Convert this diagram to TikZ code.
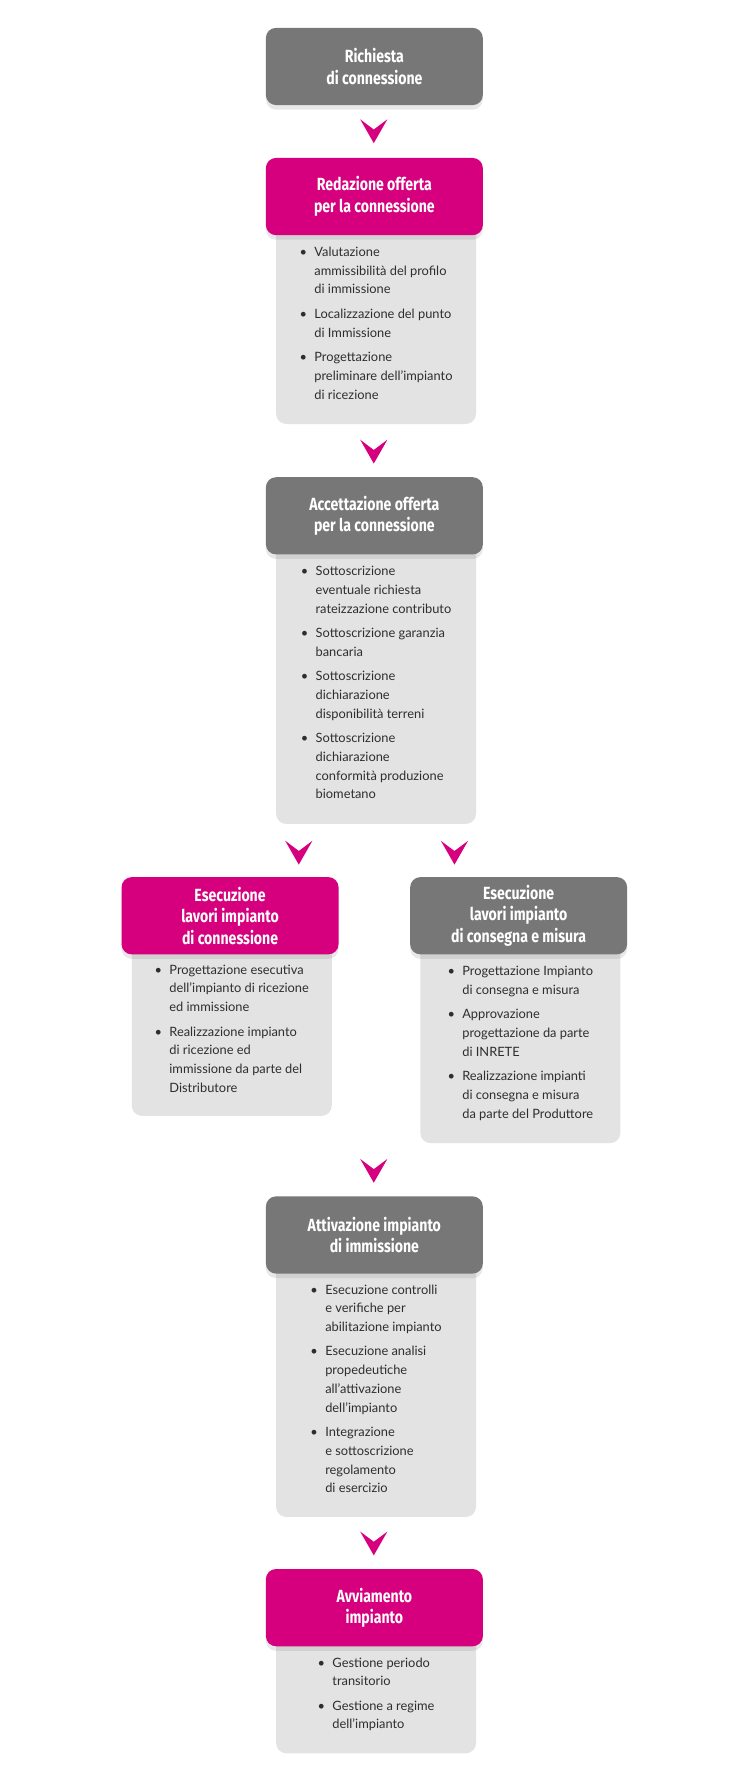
\documentclass[tikz,border=0pt]{standalone}
\usepackage{fontspec}
\setmainfont{Lato}
\newfontfamily\headfont[FakeStretch=0.8]{Fira Sans}
\usetikzlibrary{shadows}
\definecolor{grigio}{HTML}{777777}
\definecolor{magenta}{HTML}{D6007E}
\definecolor{chiaro}{HTML}{E3E3E3}
\definecolor{testo}{HTML}{2E2E2E}
\newcommand{\pt}[1]{\textbullet & #1}
\begin{document}
\begin{tikzpicture}[x=1pt, y=-1pt,
        header/.style={rounded corners=9pt, minimum width=191pt, minimum height=68pt,
          text=white, align=center, font=\headfont\bfseries\fontsize{15.5}{19}\selectfont,
          drop shadow={opacity=0.18, shadow xshift=0pt, shadow yshift=-4pt}},
        grigia/.style={header, fill=grigio},
        rosa/.style={header, fill=magenta},
        lista/.style={fill=chiaro, rounded corners=9pt, anchor=north, minimum width=176pt,
          inner xsep=8pt, inner ysep=9pt, text=testo, font=\fontsize{11.3}{16.5}\selectfont},
        freccia/.style={fill=magenta}
    ]
    \useasboundingbox (0,0) rectangle (660,1572);
    \newcommand{\chev}[1]{\fill[freccia, shift={#1}] (-12,0) -- (0,9) -- (12,0) -- (0,21) -- cycle;}

    % Liste
    \node[lista, minimum height=176pt] (l2) at (331,197) {\begin{tabular}{@{}p{13pt}@{}l@{}}
        \pt{Valutazione}\\ & ammissibilità del profilo\\ & di immissione\\[5pt]
        \pt{Localizzazione del punto}\\ & di Immissione\\[5pt]
        \pt{Progettazione}\\ & preliminare dell’impianto\\ & di ricezione\end{tabular}};
    \node[lista, minimum height=247pt] (l3) at (331,478) {\begin{tabular}{@{}p{13pt}@{}l@{}}
        \pt{Sottoscrizione}\\ & eventuale richiesta\\ & rateizzazione contributo\\[5pt]
        \pt{Sottoscrizione garanzia}\\ & bancaria\\[5pt]
        \pt{Sottoscrizione}\\ & dichiarazione\\ & disponibilità terreni\\[5pt]
        \pt{Sottoscrizione}\\ & dichiarazione\\ & conformità produzione\\ & biometano\end{tabular}};
    \node[lista, minimum height=152pt] (l4a) at (204,830) {\begin{tabular}{@{}p{13pt}@{}l@{}}
        \pt{Progettazione esecutiva}\\ & dell’impianto di ricezione\\ & ed immissione\\[5pt]
        \pt{Realizzazione impianto}\\ & di ricezione ed\\ & immissione da parte del\\ & Distributore\end{tabular}};
    \node[lista, minimum height=176pt] (l4b) at (458,830) {\begin{tabular}{@{}p{13pt}@{}l@{}}
        \pt{Progettazione Impianto}\\ & di consegna e misura\\[5pt]
        \pt{Approvazione}\\ & progettazione da parte\\ & di INRETE\\[5pt]
        \pt{Realizzazione impianti}\\ & di consegna e misura\\ & da parte del Produttore\end{tabular}};
    \node[lista, minimum height=224pt] (l5) at (331,1111) {\begin{tabular}{@{}p{13pt}@{}l@{}}
        \pt{Esecuzione controlli}\\ & e verifiche per\\ & abilitazione impianto\\[5pt]
        \pt{Esecuzione analisi}\\ & propedeutiche\\ & all’attivazione\\ & dell’impianto\\[5pt]
        \pt{Integrazione}\\ & e sottoscrizione\\ & regolamento\\ & di esercizio\end{tabular}};
    \node[lista, minimum height=104pt] (l6) at (331,1439) {\begin{tabular}{@{}p{13pt}@{}l@{}}
        \pt{Gestione periodo}\\ & transitorio\\[5pt]
        \pt{Gestione a regime}\\ & dell’impianto\end{tabular}};

    % Fasi
    \node[grigia] (richiesta) at (329.5,58.5) {Richiesta\\di connessione};
    \node[rosa] (redazione) at (329.5,173) {Redazione offerta\\per la connessione};
    \node[grigia] (accettazione) at (329.5,454) {Accettazione offerta\\per la connessione};
    \node[rosa] (connessione) at (202.5,806) {Esecuzione\\lavori impianto\\di connessione};
    \node[grigia] (consegna) at (456.5,806) {Esecuzione\\lavori impianto\\di consegna e misura};
    \node[grigia] (attivazione) at (329.5,1087) {Attivazione impianto\\di immissione};
    \node[rosa] (avviamento) at (329.5,1415) {Avviamento\\impianto};

    % Frecce
    \chev{(329,105)}
    \chev{(329,387)}
    \chev{(263,740)}
    \chev{(400,740)}
    \chev{(329,1020)}
    \chev{(329,1348)}
\end{tikzpicture}
\end{document}
